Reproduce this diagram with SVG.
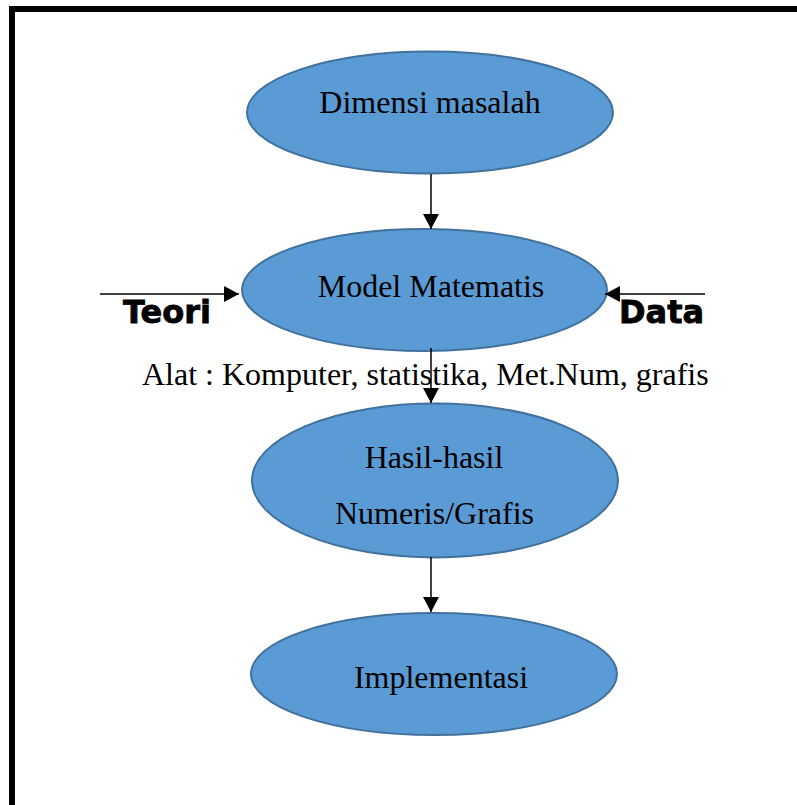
<svg xmlns="http://www.w3.org/2000/svg" width="797" height="805" viewBox="0 0 797 805">
<style>
.node ellipse{fill:#5B9BD5;stroke:#41719C;stroke-width:2}
.lbl{font-family:"Liberation Serif","Times New Roman",serif;font-size:32px;fill:#000}
.side{font-family:"DejaVu Sans",sans-serif;font-weight:bold;font-size:32px;fill:#000;stroke:#000;stroke-width:0.8}
.conn line{stroke:#000;stroke-width:1.5}
</style>
<defs>
<marker id="ah" markerUnits="userSpaceOnUse" markerWidth="16" markerHeight="16" refX="15" refY="8" orient="auto">
<path d="M0,0 L15,8 L0,16 Z" fill="#000"/>
</marker>
</defs>
<rect x="0" y="0" width="797" height="805" fill="#fff"/>
<g id="frame">
<rect x="9" y="6" width="788" height="6" fill="#000"/>
<rect x="9" y="6" width="6" height="799" fill="#000"/>
</g>
<g id="dimensi" class="node">
<ellipse cx="430" cy="112.5" rx="183" ry="61"/>
<text class="lbl" x="430" y="113" text-anchor="middle">Dimensi masalah</text>
</g>
<g id="model" class="node">
<ellipse cx="424.5" cy="290" rx="182.5" ry="61"/>
<text class="lbl" x="431" y="297" text-anchor="middle">Model Matematis</text>
</g>
<g id="hasil" class="node">
<ellipse cx="435" cy="480.5" rx="183" ry="77"/>
<text class="lbl" x="434" y="468" text-anchor="middle">Hasil-hasil</text>
<text class="lbl" x="434.5" y="524" text-anchor="middle">Numeris/Grafis</text>
</g>
<g id="implementasi" class="node">
<ellipse cx="434" cy="674" rx="183" ry="61"/>
<text class="lbl" x="441" y="688" text-anchor="middle">Implementasi</text>
</g>
<g id="connectors" class="conn">
<line x1="431" y1="174" x2="431" y2="229" marker-end="url(#ah)"/>
<line x1="431" y1="348" x2="431" y2="403" marker-end="url(#ah)"/>
<line x1="431" y1="557" x2="431" y2="612" marker-end="url(#ah)"/>
<line x1="100" y1="294" x2="239" y2="294" marker-end="url(#ah)"/>
<line x1="705" y1="294" x2="605" y2="294" marker-end="url(#ah)"/>
</g>
<text class="side" x="123" y="323">Teori</text>
<text class="side" x="619" y="323">Data</text>
<text class="lbl" x="142" y="385">Alat : Komputer, statistika, Met.Num, grafis</text>
</svg>
